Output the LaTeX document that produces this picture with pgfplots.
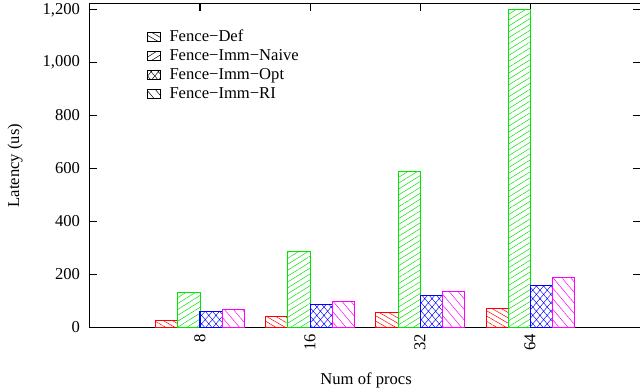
\documentclass[border=0pt]{standalone}
\usepackage{fontspec}
\setmainfont{Liberation Serif}
\usepackage{pgfplots}
\pgfplotsset{compat=1.18}
\usetikzlibrary{patterns,patterns.meta}

\pgfdeclarepatternformonly{diamx}{\pgfqpoint{-0.2pt}{-0.2pt}}{\pgfqpoint{3.8pt}{4.4pt}}{\pgfqpoint{3.6pt}{4.2pt}}{%
 \pgfsetlinewidth{0.22pt}%
 \pgfpathmoveto{\pgfqpoint{-0.1pt}{-0.1167pt}}\pgfpathlineto{\pgfqpoint{3.7pt}{4.3167pt}}%
 \pgfpathmoveto{\pgfqpoint{-0.1pt}{4.3167pt}}\pgfpathlineto{\pgfqpoint{3.7pt}{-0.1167pt}}%
 \pgfusepath{stroke}}

\tikzset{
 defpat/.style={pattern={Lines[angle=-30,distance=2.3pt,line width=0.25pt]}},
 naivepat/.style={pattern={Lines[angle=32,distance=2.5pt,line width=0.25pt]}},
 optpat/.style={pattern=diamx},
 ripat/.style={pattern={Lines[angle=-50,distance=3.4pt,line width=0.25pt]}},
}
\newcommand{\fs}{\fontsize{8.3}{10}\selectfont}
\definecolor{gred}{RGB}{255,0,0}
\definecolor{ggreen}{RGB}{0,230,0}
\definecolor{gblue}{RGB}{0,0,255}
\definecolor{gmag}{RGB}{255,0,255}

\begin{document}
\begin{tikzpicture}
\begin{axis}[
 scale only axis, width=275pt, height=161.5pt,
 xmin=0, xmax=5, ymin=0, ymax=1222,
 ybar, bar width=11pt,
 xtick={1,2,3,4}, xticklabels={8,16,32,64},
 ytick={0,200,400,600,800,1000,1200},
 tick align=inside, tick pos=both,
 major tick length=3.5pt,
 axis line style={line width=0.5pt},
 tick style={line width=0.5pt, black},
 /pgf/number format/assume math mode=true,
 xticklabel style={rotate=90, anchor=east, font=\fs},
 yticklabel style={font=\fs, xshift=-1.5pt},
 xlabel={Num of procs},
 ylabel={Latency (us)},
 xlabel style={at={(axis description cs:0.502,-0.164)}, anchor=center, font=\fs},
 ylabel style={at={(axis description cs:-0.136,0.5)}, anchor=center, font=\fs},
 legend style={at={(axis description cs:0.102,0.93)}, anchor=north west, draw=none, fill=none,
   inner sep=0pt, font=\fs, row sep=0pt,
   nodes={inner sep=0.5pt, text height=6.5pt, text depth=2pt},
   /tikz/every odd column/.append style={column sep=4pt}},
 legend cell align=left,
]
\addplot[forget plot, bar shift=-16.5pt, draw=gred, line width=0.5pt, defpat, pattern color=gred]
 coordinates {(1,26) (2,40) (3,55) (4,71)};
\addplot[forget plot, bar shift=-5.5pt, draw=ggreen, line width=0.5pt, naivepat, pattern color=ggreen]
 coordinates {(1,132) (2,284) (3,589) (4,1202)};
\addplot[forget plot, bar shift=5.5pt, draw=gblue, line width=0.5pt, optpat, pattern color=gblue]
 coordinates {(1,59) (2,87) (3,118) (4,158)};
\addplot[forget plot, bar shift=16.5pt, draw=gmag, line width=0.5pt, ripat, pattern color=gmag]
 coordinates {(1,67) (2,98) (3,136) (4,189)};

\addlegendimage{legend image code/.code={\draw[draw=black,line width=0.5pt,defpat,pattern color=black] (0pt,-2.25pt) rectangle (6.5pt,2.25pt);}}
\addlegendentry{Fence−Def}
\addlegendimage{legend image code/.code={\draw[draw=black,line width=0.5pt,naivepat,pattern color=black] (0pt,-2.25pt) rectangle (6.5pt,2.25pt);}}
\addlegendentry{Fence−Imm−Naive}
\addlegendimage{legend image code/.code={\draw[draw=black,line width=0.5pt,optpat,pattern color=black] (0pt,-2.25pt) rectangle (6.5pt,2.25pt);}}
\addlegendentry{Fence−Imm−Opt}
\addlegendimage{legend image code/.code={\draw[draw=black,line width=0.5pt,ripat,pattern color=black] (0pt,-2.25pt) rectangle (6.5pt,2.25pt);}}
\addlegendentry{Fence−Imm−RI}
\end{axis}
\pgfresetboundingbox
\path[use as bounding box] (-45pt,-32pt) rectangle (275pt,163.5pt);
\end{tikzpicture}
\end{document}
